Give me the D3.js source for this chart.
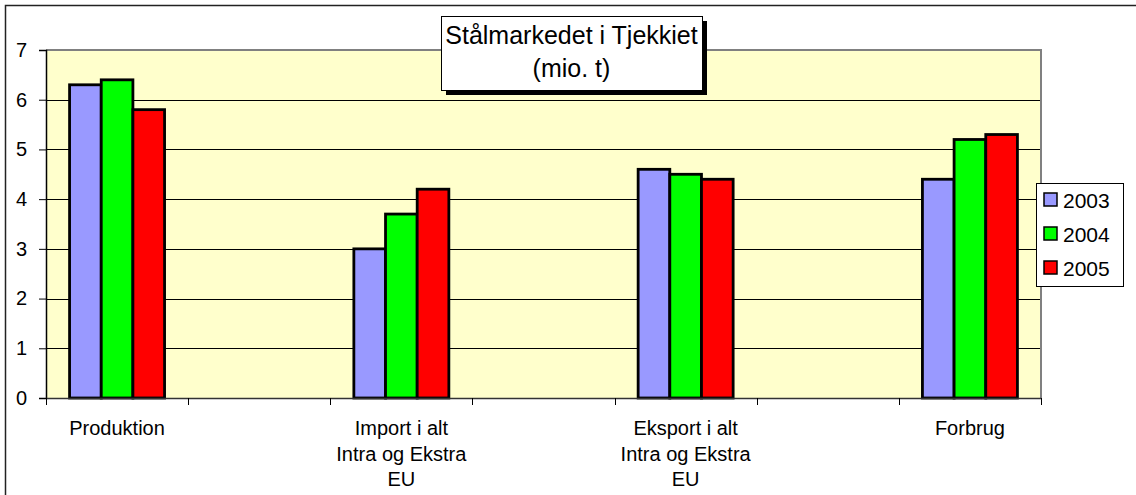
<!DOCTYPE html>
<html>
<head>
<meta charset="utf-8">
<script src="https://cdn.jsdelivr.net/npm/d3@7/dist/d3.min.js"></script>
<style>
  html, body { margin: 0; padding: 0; background: #fff; }
  svg { display: block; font-family: "Liberation Sans", Arial, sans-serif; }
</style>
</head>
<body>
<svg id="chart" width="1136" height="495"></svg>
<script>
// ---- Data ----
const categories = [
  "Produktion", "",
  "Import i alt\nIntra og Ekstra\nEU", "",
  "Eksport i alt\nIntra og Ekstra\nEU", "",
  "Forbrug"
];
const seriesNames = ["2003", "2004", "2005"];
const values2003 = [6.3, null, 3.0, null, 4.6, null, 4.4];
const values2004 = [6.4, null, 3.7, null, 4.5, null, 5.2];
const values2005 = [5.8, null, 4.2, null, 4.4, null, 5.3];
const seriesColors = ["#9999FF", "#00FF00", "#FF0000"];
const yTicks = [0, 1, 2, 3, 4, 5, 6, 7];
const titleLines = ["Stålmarkedet i Tjekkiet", "(mio. t)"];

const seriesValues = [values2003, values2004, values2005];

// ---- Layout ----
const svg = d3.select("#chart");
const plot = { left: 46, right: 1041, top: 50, bottom: 398 };

// outer frame
svg.append("rect")
  .attr("x", 5.5).attr("y", 5.5)
  .attr("width", 1140).attr("height", 500)
  .attr("fill", "#fff").attr("stroke", "#222").attr("stroke-width", 1.5);

const x = d3.scaleBand()
  .domain(d3.range(categories.length))
  .range([plot.left, plot.right])
  .paddingInner(0).paddingOuter(0);

const y = d3.scaleLinear().domain([0, 7]).range([plot.bottom, plot.top]);

const barGroupWidth = 95;
const xInner = d3.scaleBand()
  .domain(d3.range(seriesNames.length))
  .range([0, barGroupWidth]);

// plot background
svg.append("rect")
  .attr("x", plot.left).attr("y", plot.top)
  .attr("width", plot.right - plot.left).attr("height", plot.bottom - plot.top)
  .attr("fill", "#FFFFCC");

// gridlines
svg.append("g").selectAll("line")
  .data(yTicks.filter(t => t > 0 && t < 7))
  .join("line")
  .attr("x1", plot.left).attr("x2", plot.right)
  .attr("y1", d => Math.round(y(d)) + 0.5).attr("y2", d => Math.round(y(d)) + 0.5)
  .attr("stroke", "#000").attr("stroke-width", 1);

// plot border top/right (gray)
svg.append("path")
  .attr("d", `M${plot.left},${plot.top} H${plot.right} V${plot.bottom}`)
  .attr("fill", "none").attr("stroke", "#808080").attr("stroke-width", 2);

// bars
const barData = [];
categories.forEach((c, i) => {
  seriesValues.forEach((vals, s) => {
    if (vals[i] != null) barData.push({ i, s, v: vals[i] });
  });
});
svg.append("g").selectAll("rect")
  .data(barData)
  .join("rect")
  .attr("x", d => x(d.i) + (x.bandwidth() - barGroupWidth) / 2 + xInner(d.s))
  .attr("y", d => y(d.v))
  .attr("width", xInner.bandwidth())
  .attr("height", d => y(0) - y(d.v))
  .attr("fill", d => seriesColors[d.s])
  .attr("stroke", "#000").attr("stroke-width", 2.8);

// Y axis
const yAxis = d3.axisLeft(y).tickValues(yTicks).tickSize(7).tickPadding(12).tickFormat(d3.format("d"));
const gy = svg.append("g").attr("transform", `translate(${plot.left},0)`).call(yAxis);
gy.select(".domain").attr("stroke", "#000").attr("stroke-width", 1.5);
gy.selectAll(".tick line").attr("stroke", "#000");
gy.selectAll(".tick text")
  .attr("font-size", 20).attr("fill", "#000")
  .attr("font-family", "Liberation Sans, Arial, sans-serif");

// X axis (ticks at band boundaries)
const boundaries = d3.range(categories.length + 1).map(i => plot.left + i * x.bandwidth());
svg.append("line")
  .attr("x1", plot.left).attr("x2", plot.right)
  .attr("y1", plot.bottom + 0.5).attr("y2", plot.bottom + 0.5)
  .attr("stroke", "#333").attr("stroke-width", 1.5);
svg.append("g").selectAll("line")
  .data(boundaries)
  .join("line")
  .attr("x1", d => Math.round(d) + 0.5).attr("x2", d => Math.round(d) + 0.5)
  .attr("y1", plot.bottom).attr("y2", plot.bottom + 7)
  .attr("stroke", "#000").attr("stroke-width", 1);

// category labels
const labels = svg.append("g").selectAll("text")
  .data(categories.map((c, i) => ({ c, i })).filter(d => d.c))
  .join("text")
  .attr("x", d => x(d.i) + x.bandwidth() / 2)
  .attr("y", 435)
  .attr("text-anchor", "middle")
  .attr("font-size", 20)
  .attr("fill", "#000");
labels.each(function(d) {
  const t = d3.select(this);
  d.c.split("\n").forEach((line, k) => {
    t.append("tspan")
      .attr("x", x(d.i) + x.bandwidth() / 2)
      .attr("dy", k === 0 ? 0 : 25.5)
      .text(line);
  });
});

// Title box with shadow
const tb = { x: 441, y: 16, w: 261, h: 74 };
svg.append("rect")
  .attr("x", tb.x + 5).attr("y", tb.y + 5)
  .attr("width", tb.w).attr("height", tb.h)
  .attr("fill", "#000");
svg.append("rect")
  .attr("x", tb.x + 0.5).attr("y", tb.y + 0.5)
  .attr("width", tb.w).attr("height", tb.h)
  .attr("fill", "#fff").attr("stroke", "#000").attr("stroke-width", 1);
svg.append("g").selectAll("text")
  .data(titleLines)
  .join("text")
  .attr("x", tb.x + tb.w / 2)
  .attr("y", (d, i) => 44 + i * 32.5)
  .attr("text-anchor", "middle")
  .attr("font-size", 25)
  .attr("fill", "#000")
  .text(d => d);

// Legend
const lg = { x: 1036, y: 183, w: 87, h: 103 };
svg.append("rect")
  .attr("x", lg.x + 0.5).attr("y", lg.y + 0.5)
  .attr("width", lg.w).attr("height", lg.h)
  .attr("fill", "#fff").attr("stroke", "#000").attr("stroke-width", 1);
const li = svg.append("g").selectAll("g")
  .data(seriesNames)
  .join("g")
  .attr("transform", (d, i) => `translate(${lg.x + 8},${200 + i * 34})`);
li.append("rect")
  .attr("x", 0).attr("y", -7)
  .attr("width", 13).attr("height", 13)
  .attr("fill", (d, i) => seriesColors[i])
  .attr("stroke", "#000").attr("stroke-width", 1.5);
li.append("text")
  .attr("x", 19).attr("y", 0)
  .attr("dy", "0.36em")
  .attr("font-size", 21)
  .attr("fill", "#000")
  .text(d => d);
</script>
</body>
</html>
